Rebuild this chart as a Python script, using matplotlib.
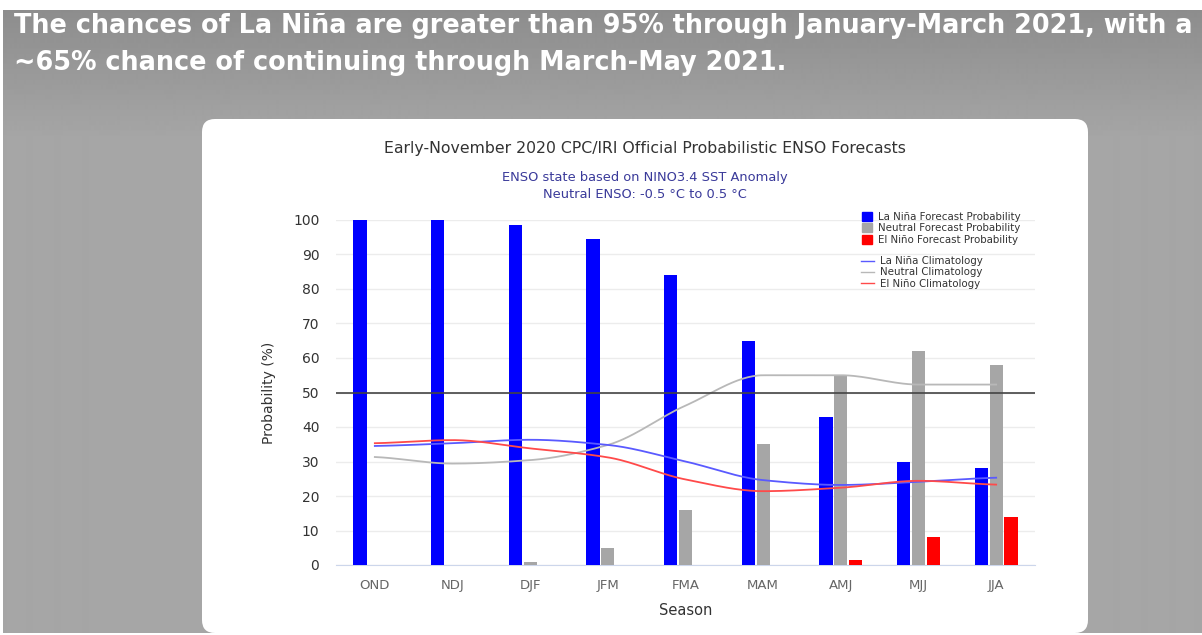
import numpy as np
import matplotlib
matplotlib.use('Agg')
import matplotlib.pyplot as plt
from matplotlib.patches import FancyBboxPatch, Patch
from matplotlib.lines import Line2D

plt.rcParams['font.family'] = ['DejaVu Sans']

# data
seasons = ['OND', 'NDJ', 'DJF', 'JFM', 'FMA', 'MAM', 'AMJ', 'MJJ', 'JJA']
lanina_prob = [100, 100, 98.5, 94.5, 84, 65, 43, 30, 28]
neutral_prob = [0, 0, 1, 5, 16, 35, 55, 62, 58]
elnino_prob = [0, 0, 0, 0, 0, 0, 1.5, 8, 14]
lanina_clim = [34.5, 35.3, 36.3, 34.8, 30, 24.6, 23.2, 24.1, 25.3]
neutral_clim = [31.3, 29.4, 30.4, 34.8, 46.2, 55, 55, 52.3, 52.3]
elnino_clim = [35.3, 36.2, 33.8, 31.2, 24.8, 21.4, 22.4, 24.4, 23.3]


def smooth(y, n=30):
    # monotone cubic (pchip-like) through the points, only for drawing
    y = np.asarray(y, dtype=float)
    d = np.diff(y)
    m = np.zeros_like(y)
    for i in range(1, len(y) - 1):
        if d[i - 1] * d[i] > 0:
            m[i] = 2 * d[i - 1] * d[i] / (d[i - 1] + d[i])
    m[0] = d[0] * 0.5
    m[-1] = d[-1] * 0.5
    xs, ys = [], []
    t = np.linspace(0, 1, n, endpoint=False)
    for i in range(len(y) - 1):
        h00 = 2 * t ** 3 - 3 * t ** 2 + 1
        h10 = t ** 3 - 2 * t ** 2 + t
        h01 = -2 * t ** 3 + 3 * t ** 2
        h11 = t ** 3 - t ** 2
        xs.append(i + t)
        ys.append(h00 * y[i] + h10 * m[i] + h01 * y[i + 1] + h11 * m[i + 1])
    xs.append([len(y) - 1])
    ys.append([y[-1]])
    return np.concatenate(xs), np.concatenate(ys)


W, H = 1202, 635
fig = plt.figure(figsize=(W / 100, H / 100), dpi=100, facecolor='white')

# background in pixel coordinates
bg = fig.add_axes([0, 0, 1, 1])
bg.set_xlim(0, W)
bg.set_ylim(H, 0)
bg.axis('off')
grad = np.linspace(0x8d, 0xa6, 130) / 255.0
grad = np.concatenate([grad, np.full(H, 0xa6 / 255.0)])[:H - 12]
img = np.repeat(grad[:, None], 2, axis=1)
bg.imshow(img, cmap='gray', vmin=0, vmax=1, extent=(3, W, H - 2, 10), aspect='auto',
          interpolation='bilinear', zorder=0)
panel = FancyBboxPatch((202, 119), 886, 514, boxstyle='round,pad=0,rounding_size=13',
                       facecolor='white', edgecolor='none', zorder=1)
bg.add_patch(panel)
bg.text(14, 26, 'The chances of La Niña are greater than 95% through January-March 2021, with a',
        color='white', fontsize=18.4, fontweight='bold', va='center', ha='left', zorder=2)
bg.text(14, 63, '~65% chance of continuing through March-May 2021.',
        color='white', fontsize=18.4, fontweight='bold', va='center', ha='left', zorder=2)
bg.text(645, 149, 'Early-November 2020 CPC/IRI Official Probabilistic ENSO Forecasts',
        color='#333333', fontsize=11.3, ha='center', va='center', zorder=2)
bg.text(645, 177, 'ENSO state based on NINO3.4 SST Anomaly',
        color='#3a3a9a', fontsize=9.4, ha='center', va='center', zorder=2)
bg.text(645, 195, 'Neutral ENSO: -0.5 °C to 0.5 °C',
        color='#3a3a9a', fontsize=9.4, ha='center', va='center', zorder=2)

# chart
ax = fig.add_axes([336 / W, 1 - 565 / H, 699 / W, 345 / H])
ax.set_facecolor('none')
x = np.arange(len(seasons))
bw = 0.17
ax.bar(x - 0.19, lanina_prob, bw, color='#0000ff', zorder=3)
ax.bar(x, neutral_prob, bw, color='#a6a6a6', zorder=3)
ax.bar(x + 0.19, elnino_prob, bw, color='#ff0000', zorder=3)

for vals, c in [(neutral_clim, '#b8b8b8'), (lanina_clim, '#5a5aff'), (elnino_clim, '#ff4a4a')]:
    sx, sy = smooth(vals)
    ax.plot(sx, sy, color=c, lw=1.3, zorder=4)

ax.axhline(50, color='#444444', lw=1.2, zorder=5)
ax.set_xlim(-0.5, len(seasons) - 0.5)
ax.set_ylim(0, 100)
ax.set_yticks(np.arange(0, 101, 10))
ax.grid(axis='y', color='#ececec', lw=1, zorder=0)
ax.set_axisbelow(True)
for s in ['top', 'right', 'left']:
    ax.spines[s].set_visible(False)
ax.spines['bottom'].set_color('#ccd6eb')
ax.tick_params(axis='y', length=0, labelsize=10, labelcolor='#333333', pad=12)
ax.tick_params(axis='x', length=0, labelsize=9.5, labelcolor='#666666', pad=10)
ax.set_xticks(x)
ax.set_xticklabels(seasons)
ax.set_xlabel('Season', fontsize=10.5, color='#333333', labelpad=8)
ax.set_ylabel('Probability (%)', fontsize=10, color='#333333', labelpad=12)

bar_handles = [Patch(color='#0000ff'), Patch(color='#a6a6a6'), Patch(color='#ff0000')]
bar_labels = ['La Niña Forecast Probability', 'Neutral Forecast Probability',
              'El Niño Forecast Probability']
line_handles = [Line2D([], [], color='#5a5aff', lw=1), Line2D([], [], color='#b8b8b8', lw=1),
                Line2D([], [], color='#ff4a4a', lw=1)]
line_labels = ['La Niña Climatology', 'Neutral Climatology', 'El Niño Climatology']
leg1 = fig.legend(bar_handles, bar_labels, loc='upper left', bbox_to_anchor=(857 / W, 1 - 207 / H),
                  frameon=False, fontsize=7.4, labelcolor='#333333', handlelength=0.95,
                  handleheight=0.95, handletextpad=0.6, labelspacing=0.12, borderpad=0)
leg2 = fig.legend(line_handles, line_labels, loc='upper left', bbox_to_anchor=(856 / W, 1 - 251 / H),
                  frameon=False, fontsize=7.4, labelcolor='#333333', handlelength=1.25,
                  handletextpad=0.55, labelspacing=0.12, borderpad=0)

fig.savefig('out.png', dpi=100, facecolor='white')
